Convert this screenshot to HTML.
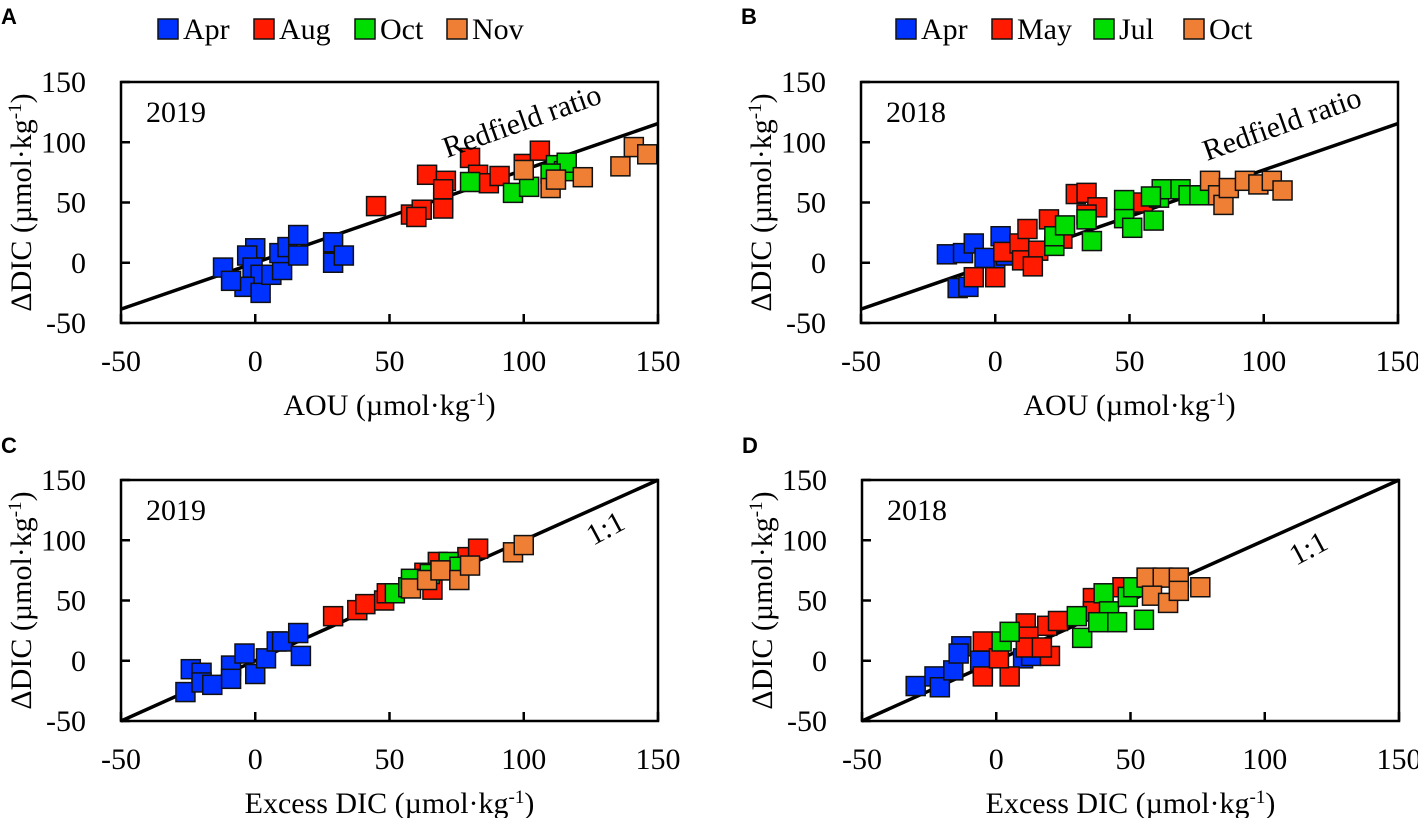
<!DOCTYPE html>
<html><head><meta charset="utf-8">
<style>
body{margin:0;background:#fff;}
svg{display:block;font-family:"Liberation Serif",serif;}
.tk{font-size:30px;}
.ttl{font-size:30px;}
.lg{font-size:30px;}
.pl{font-family:"Liberation Sans",sans-serif;font-weight:bold;font-size:22px;}
</style></head>
<body>
<svg id="chart" width="1418" height="818" viewBox="0 0 1418 818" xmlns="http://www.w3.org/2000/svg"></svg>
<script>
const xTicks=[-50,0,50,100,150];
const yTicks=[-50,0,50,100,150];
const colors={Apr:"#0032ff",Aug:"#ff1a00",May:"#ff1a00",Oct19:"#00dd00",Jul:"#00dd00",Nov:"#ee7f35",Oct18:"#ee7f35"};
// Panel A (2019, AOU)
const aAprX=[-12,0,-3,-1,2,-4,2,6,10,9,12,16,16,29,29,33,-9];
const aAprY=[-4,12,6,-4,-10,-20,-25,-10,-6,8,13,23,6,17,0,6,-15];
const aAugX=[45,58,62,70,70,64,71,80,83,87,91,100,106,70,60];
const aAugY=[47,40,44,50,45,73,68,87,73,66,72,82,93,61,38];
const aOctX=[80,96,102,112,115,116,110];
const aOctY=[67,58,63,81,76,83,74];
const aNovX=[100,110,112,122,136,141,146];
const aNovY=[77,62,69,71,80,96,90];
// Panel B (2018, AOU)
const bAprX=[-18,-12,-8,-14,-10,2,0,-4,4];
const bAprY=[7,8,16,-21,-20,22,0,4,6];
const bMayX=[-8,0,3,9,10,16,12,20,25,30,34,38,34,55,14];
const bMayY=[-12,-12,9,16,2,10,28,36,20,57,58,46,40,50,-3];
const bJulX=[22,22,26,34,36,48,51,48,59,61,62,69,72,76,58];
const bJulY=[14,22,31,36,18,37,29,52,35,54,61,61,56,56,55];
const bOctX=[80,83,85,87,93,98,103,107];
const bOctY=[68,56,48,62,68,65,68,60];
// Panel C (2019, Excess DIC)
const cAprX=[-26,-24,-20,-20,-16,-9,-4,0,4,8,10,16,17,-9];
const cAprY=[-26,-7,-10,-18,-20,-4,6,-11,2,16,16,23,4,-15];
const cAugX=[29,38,41,48,49,68,79,83,66,63];
const cAugY=[37,42,47,50,56,82,86,93,59,73];
const cOctX=[52,57,58,65,72,76,69];
const cOctY=[56,61,68,72,82,78,75];
const cNovX=[58,64,69,76,80,96,100];
const cNovY=[60,67,75,67,79,90,96];
// Panel D (2018, Excess DIC)
const dAprX=[-30,-23,-21,-16,-13,-14,-5,-6,10,13];
const dAprY=[-21,-13,-22,-8,12,6,-10,0,2,4];
const dMayX=[-5,5,-5,1,11,12,11,19,23,20,17,36,47,36];
const dMayY=[-13,-13,16,2,31,20,11,29,33,4,11,52,61,41];
const dJulX=[2,5,30,32,40,42,45,38,49,51,55];
const dJulY=[16,24,37,19,56,41,32,32,53,61,34];
const dOctX=[56,62,68,58,64,68,76];
const dOctY=[69,69,69,54,48,58,61];

const NS="http://www.w3.org/2000/svg";
const svg=document.getElementById("chart");
function el(tag,attrs,parent){const e=document.createElementNS(NS,tag);for(const k in attrs)e.setAttribute(k,attrs[k]);(parent||svg).appendChild(e);return e;}

function unitTitle(t,pre){
  t.appendChild(document.createTextNode(pre+" (µmol·kg"));
  const s=el("tspan",{"baseline-shift":"super","font-size":"19"},t);s.textContent="-1";
  const s2=el("tspan",{},t);s2.textContent=")";
}

function panel(p){
  const g=el("g",{});
  
  
  const L=p.left,T=p.top,W=537,H=241;
  const sx=v=>L+(v+50)*W/200;
  const sy=v=>T+H-(v+50)*H/200;
  const ln=el("line",{x1:sx(-50),y1:sy(-50*p.slope),x2:sx(150),y2:sy(150*p.slope),stroke:"#000","stroke-width":3.5},g);
  
  
  p.series.forEach(s=>{
    const sg=el("g",{},g);
    
    
    s.x.forEach((xv,i)=>{
      const r=el("rect",{x:sx(xv)-9.5,y:sy(s.y[i])-9.5,width:19,height:19,fill:s.color,stroke:"#111","stroke-width":1.5},sg);
      
      
    });
  });
  const bx=el("rect",{x:L,y:T,width:W,height:H,fill:"none",stroke:"#000","stroke-width":2.5},g);
  
  
  xTicks.forEach(v=>{
    el("line",{x1:sx(v),y1:T+H,x2:sx(v),y2:T+H-9,stroke:"#000","stroke-width":2.5},g);
    const t=el("text",{x:sx(v),y:T+H+48,"text-anchor":"middle",class:"tk"},g);t.textContent=v;
    
    
  });
  yTicks.forEach(v=>{
    el("line",{x1:L,y1:sy(v),x2:L+9,y2:sy(v),stroke:"#000","stroke-width":2.5},g);
    const t=el("text",{x:L-35,y:sy(v)+10,"text-anchor":"end",class:"tk"},g);t.textContent=v;
    
    
  });
  const yr=el("text",{x:L+25,y:T+40,class:"ttl"},g);yr.textContent=p.year;
  
  
  const lt=el("text",{x:p.lblX,y:p.lblY,class:"ttl","font-size":"29",transform:`rotate(${p.lblRot} ${p.lblX} ${p.lblY})`},g);lt.textContent=p.lbl;
  
  
  const xt=el("text",{x:L+W/2,y:T+H+92,"text-anchor":"middle",class:"ttl"},g);unitTitle(xt,p.xtitle);
  
  
  const yx=L-90,yy=T+H/2;
  const yt=el("text",{x:yx,y:yy,"text-anchor":"middle",class:"ttl",transform:`rotate(-90 ${yx} ${yy})`},g);unitTitle(yt,"ΔDIC");
  
  
  const pl=el("text",{x:p.left-120,y:p.letterY,class:"pl"},g);pl.textContent=p.id;
  
  
}
function legend(xs,items){
  items.forEach((it,i)=>{
    const x=xs[i];
    const r=el("rect",{x:x,y:19,width:20,height:20,fill:it.c,stroke:"#111","stroke-width":1.5});
    
    
    const t=el("text",{x:x+25,y:39,class:"lg"});t.textContent=it.n;
    
    
  });
}
const rf=0.77;
panel({id:"A",left:121,top:82,letterY:24,year:"2019",slope:rf,lbl:"Redfield ratio",lblX:447,lblY:158,lblRot:-19.5,xtitle:"AOU",
 series:[{name:"Apr",x:aAprX,y:aAprY,color:colors.Apr},{name:"Aug",x:aAugX,y:aAugY,color:colors.Aug},{name:"Oct",x:aOctX,y:aOctY,color:colors.Oct19},{name:"Nov",x:aNovX,y:aNovY,color:colors.Nov}]});
panel({id:"B",left:861,top:82,letterY:24,year:"2018",slope:rf,lbl:"Redfield ratio",lblX:1207,lblY:161,lblRot:-19.5,xtitle:"AOU",
 series:[{name:"Apr",x:bAprX,y:bAprY,color:colors.Apr},{name:"May",x:bMayX,y:bMayY,color:colors.May},{name:"Jul",x:bJulX,y:bJulY,color:colors.Jul},{name:"Oct",x:bOctX,y:bOctY,color:colors.Oct18}]});
panel({id:"C",left:121,top:480,letterY:453,year:"2019",slope:1,lbl:"1:1",lblX:593,lblY:546,lblRot:-28,xtitle:"Excess DIC",
 series:[{name:"Apr",x:cAprX,y:cAprY,color:colors.Apr},{name:"Aug",x:cAugX,y:cAugY,color:colors.Aug},{name:"Oct",x:cOctX,y:cOctY,color:colors.Oct19},{name:"Nov",x:cNovX,y:cNovY,color:colors.Nov}]});
panel({id:"D",left:862,top:480,letterY:453,year:"2018",slope:1,lbl:"1:1",lblX:1296,lblY:566,lblRot:-28,xtitle:"Excess DIC",
 series:[{name:"Apr",x:dAprX,y:dAprY,color:colors.Apr},{name:"May",x:dMayX,y:dMayY,color:colors.May},{name:"Jul",x:dJulX,y:dJulY,color:colors.Jul},{name:"Oct",x:dOctX,y:dOctY,color:colors.Oct18}]});
legend([158,254,355,447],[{n:"Apr",c:colors.Apr},{n:"Aug",c:colors.Aug},{n:"Oct",c:colors.Oct19},{n:"Nov",c:colors.Nov}]);
legend([896,992,1094,1184],[{n:"Apr",c:colors.Apr},{n:"May",c:colors.May},{n:"Jul",c:colors.Jul},{n:"Oct",c:colors.Oct18}]);
</script>
</body></html>
